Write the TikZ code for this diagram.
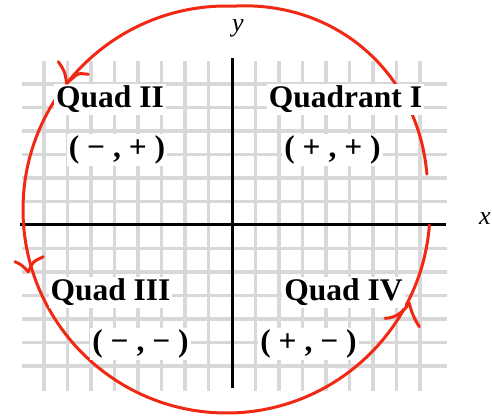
\documentclass[tikz,border=0pt]{standalone}
\usepackage{fontspec}
\setmainfont{Liberation Serif}
\definecolor{gridgray}{RGB}{216,216,216}
\definecolor{circred}{RGB}{240,40,20}
\begin{document}
\begin{tikzpicture}[x=1pt,y=1pt,
  gridline/.style={draw=gridgray, line width=3.2pt},
  axisline/.style={draw=black, line width=3pt},
  redline/.style={draw=circred, line width=3pt, line cap=round, line join=round},
  quadlabel/.style={fill=white, inner sep=2pt, anchor=base, font=\bfseries\fontsize{31.5}{36}\selectfont},
  axislabel/.style={anchor=base, font=\itshape\fontsize{26}{30}\selectfont}]
\useasboundingbox (0,0) rectangle (492,415);
% grid
\foreach \k in {1,...,8} {
  \draw[gridline] ({232+23.5*\k},24) -- ({232+23.5*\k},354);
  \draw[gridline] ({232-23.5*\k},24) -- ({232-23.5*\k},354);
}
\foreach \j in {1,...,6} {
  \draw[gridline] (22,{190+23.5*\j}) -- (447,{190+23.5*\j});
  \draw[gridline] (22,{190-23.5*\j}) -- (447,{190-23.5*\j});
}
% axes
\coordinate (xl) at (20,190);
\coordinate (xr) at (446,190);
\coordinate (yb) at (232,27);
\coordinate (yt) at (232,357);
\draw[axisline] (xl) -- (xr);
\draw[axisline] (yb) -- (yt);
% red circle with gap on the right
\draw[redline, shift={(226.5,205.5)}] plot[domain=10:88, samples=60]
  ({cos(\x)*(203.5+8*sin(180*(\x-10)/78))},{sin(\x)*(203.5+8*sin(180*(\x-10)/78))})
  arc[start angle=88, end angle=355.6, radius=203.5];
% labels
\node[quadlabel] (q2) at (110,307) {Quad II};
\node[quadlabel] (q1) at (345.5,307) {Quadrant I};
\node[quadlabel] (q3) at (110.5,114) {Quad III};
\node[quadlabel] (q4) at (343.5,114) {Quad IV};
\node[quadlabel] (s2) at (117,257.5) {( − , + )};
\node[quadlabel] (s1) at (332.5,257.5) {( + , + )};
\node[quadlabel] (s3) at (140.5,63.4) {( − , − )};
\node[quadlabel] (s4) at (308.5,63.4) {( + , − )};
\node[axislabel] (ylab) at (238,383) {y};
\node[axislabel] (xlab) at (485,190) {x};
% hand-drawn arrowheads
\coordinate (t1) at (66.7,331.7);
\coordinate (t1a) at (88.3,340.7);
\coordinate (t1b) at (58.3,353.3);
\draw[redline, rounded corners=3pt] (t1) -- (78.3,341.7) -- (t1a);
\draw[redline, rounded corners=3pt] (t1) -- (65,341.7) -- (62.7,346.7) -- (t1b);
\coordinate (t2) at (28.3,143.3);
\coordinate (t2a) at (15,153.3);
\coordinate (t2b) at (43.3,158.3);
\draw[redline, rounded corners=3pt] (t2) -- (21.7,150) -- (t2a);
\draw[redline, rounded corners=3pt] (t2) -- (33.3,153.3) -- (t2b);
\coordinate (t3) at (409.3,111.7);
\coordinate (t3a) at (385,96.7);
\coordinate (t3b) at (419.3,88.3);
\draw[redline] (t3) .. controls (403,103) and (396,97) .. (t3a);
\draw[redline] (t3) .. controls (411.7,101.7) and (415,95) .. (t3b);
\end{tikzpicture}
\end{document}
